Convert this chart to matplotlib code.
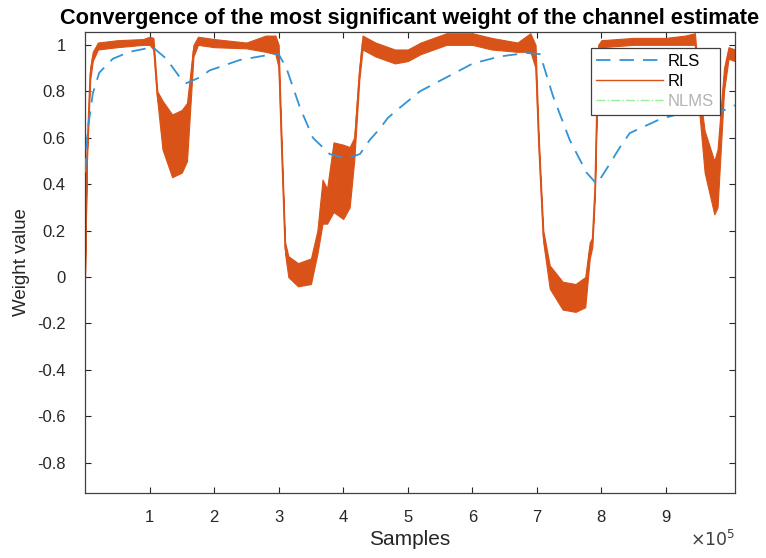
import numpy as np
import matplotlib.pyplot as plt
from matplotlib.lines import Line2D

plt.rcParams['font.family'] = ['Liberation Sans', 'DejaVu Sans']

# RLS weight trajectory (samples in units of 1e5)
rls_x = [0.0, 0.04, 0.12, 0.22, 0.43, 0.69, 1.05, 1.26, 1.47, 1.57, 1.78, 1.93,
         2.40, 2.91, 3.0, 3.12, 3.33, 3.53, 3.79, 4.05, 4.26, 4.41, 4.57, 4.69,
         4.88, 5.19, 5.60, 6.01, 6.43, 6.84, 7.05, 7.25, 7.51, 7.77, 7.93, 8.09,
         8.29, 8.44, 8.91, 9.37, 9.71, 9.87, 10.07]
rls_w = [0.45, 0.63, 0.79, 0.88, 0.94, 0.97, 0.99, 0.94, 0.86, 0.835, 0.86, 0.89,
         0.935, 0.96, 0.96, 0.90, 0.73, 0.60, 0.53, 0.51, 0.53, 0.59, 0.64, 0.685,
         0.73, 0.80, 0.86, 0.92, 0.95, 0.965, 0.96, 0.78, 0.59, 0.45, 0.40, 0.47,
         0.56, 0.62, 0.68, 0.715, 0.735, 0.715, 0.74]

# RI weight: lower / upper edge of the fluctuating estimate
ri_x = [0.0, 0.03, 0.08, 0.12, 0.2, 0.5, 0.9, 1.0, 1.06, 1.12, 1.2, 1.35, 1.5,
        1.58, 1.68, 1.75, 2.0, 2.5, 2.8, 2.95, 3.0, 3.05, 3.1, 3.15, 3.3, 3.5,
        3.6, 3.68, 3.75, 3.85, 4.0, 4.1, 4.17, 4.25, 4.3, 4.5, 4.8, 5.0, 5.2,
        5.6, 6.0, 6.3, 6.7, 6.9, 6.98, 7.03, 7.1, 7.2, 7.4, 7.6, 7.75, 7.82,
        7.86, 7.9, 7.95, 8.0, 8.5, 9.0, 9.3, 9.45, 9.52, 9.6, 9.75, 9.8, 9.9,
        9.97, 10.07]
ri_lo = [0.0, 0.5, 0.85, 0.93, 0.98, 0.99, 1.0, 1.0, 0.98, 0.76, 0.55, 0.43, 0.45,
         0.5, 0.95, 1.0, 0.99, 0.985, 0.97, 0.96, 0.9, 0.5, 0.1, 0.0, -0.04, -0.03,
         0.1, 0.23, 0.23, 0.28, 0.25, 0.3, 0.5, 0.85, 0.98, 0.95, 0.92, 0.93, 0.96,
         1.0, 1.0, 0.98, 0.97, 0.97, 0.9, 0.55, 0.15, -0.05, -0.14, -0.15, -0.13, 0.08,
         0.13, 0.35, 0.95, 0.99, 1.0, 1.0, 1.0, 1.0, 0.7, 0.45, 0.27, 0.3, 0.8,
         0.94, 0.93]
ri_hi = [0.02, 0.55, 0.9, 0.97, 1.01, 1.02, 1.025, 1.035, 1.03, 0.8, 0.76, 0.70, 0.72,
         0.75, 1.0, 1.035, 1.025, 1.01, 1.04, 1.04, 1.0, 0.55, 0.15, 0.09, 0.06, 0.08,
         0.2, 0.42, 0.38, 0.58, 0.57, 0.56, 0.6, 0.9, 1.04, 1.01, 0.98, 0.98, 1.01,
         1.05, 1.05, 1.03, 1.01, 1.05, 1.0, 0.6, 0.2, 0.05, -0.02, -0.03, 0.0, 0.15,
         0.17, 0.4, 1.0, 1.02, 1.03, 1.03, 1.04, 1.05, 0.8, 0.63, 0.5, 0.55, 0.9,
         0.99, 0.98]

xtick_vals = [1, 2, 3, 4, 5, 6, 7, 8, 9]
ytick_vals = [-0.8, -0.6, -0.4, -0.2, 0, 0.2, 0.4, 0.6, 0.8, 1]

blue = '#3393d6'
orange = '#d95319'
dash = (0, (8, 5))

fig = plt.figure(figsize=(7.66, 5.58), dpi=100)
ax = fig.add_axes([0.111, 0.1165, 0.8485, 0.826])

scale = 1e5
rx = np.array(rls_x) * scale
ix = np.array(ri_x) * scale
lo = np.array(ri_lo)
hi = np.array(ri_hi)

ax.fill_between(ix, lo, hi, color=orange, linewidth=0.8, edgecolor=orange, zorder=2)
ax.plot(ix, (lo + hi) / 2, color=orange, linewidth=1.0, zorder=2)
ax.plot(rx, rls_w, color=blue, linestyle=dash, linewidth=1.3, zorder=3)

ax.set_xlim(0, 10.07 * scale)
ax.set_ylim(-0.93, 1.055)
ax.set_xticks([v * scale for v in xtick_vals])
ax.set_xticklabels([str(v) for v in xtick_vals])
ax.set_yticks(ytick_vals)
ax.set_yticklabels(['%g' % v for v in ytick_vals])
ax.tick_params(direction='in', length=4, width=0.8, top=True, right=True,
               labelsize=12, colors='#262626')
ax.tick_params(axis='x', pad=12)
ax.tick_params(axis='y', pad=14)
for s in ax.spines.values():
    s.set_color('#404040')
    s.set_linewidth(0.9)

ax.set_title('Convergence of the most significant weight of the channel estimate',
             fontsize=15.7, fontweight='bold', pad=6)
ax.set_xlabel('Samples', fontsize=15, color='#262626', labelpad=4)
ax.set_ylabel('Weight value', fontsize=13.5, color='#262626', labelpad=5)
ax.text(1.0, -0.1, r'$\times10^5$', transform=ax.transAxes, ha='right', va='center',
        fontsize=12.5, color='#404040')

handles = [Line2D([], [], color=blue, linestyle=dash, linewidth=1.3),
           Line2D([], [], color=orange, linewidth=1.0),
           Line2D([], [], color='#99ee99', linestyle='-.', linewidth=1.0)]
leg = ax.legend(handles, ['RLS', 'RI', 'NLMS'], loc='upper right',
                bbox_to_anchor=(0.977, 0.965), borderaxespad=0, fontsize=12,
                handlelength=4.0, fancybox=False, framealpha=1, edgecolor='#404040',
                borderpad=0.35, labelspacing=0.3, handletextpad=0.3)
leg.get_frame().set_linewidth(0.9)
leg.get_texts()[2].set_color('#b3b3b3')

fig.savefig('out.png', dpi=100)
